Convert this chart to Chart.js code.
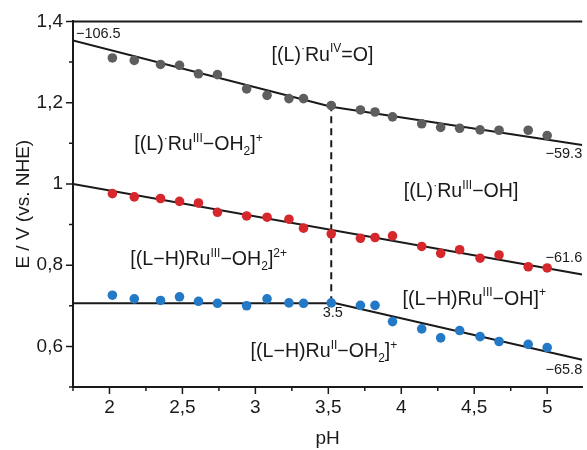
<!DOCTYPE html>
<html>
<head>
<meta charset="utf-8">
<script src="https://cdn.jsdelivr.net/npm/chart.js@4.4.1/dist/chart.umd.min.js"></script>
<style>
  html, body { margin: 0; padding: 0; background: #fff; }
  #wrap { width: 587px; height: 450px; }
</style>
</head>
<body>
<div id="wrap"><canvas id="chart" width="587" height="450"></canvas></div>
<script>
// measured pH values (same for all three couples)
const pH = [2.02, 2.17, 2.35, 2.48, 2.61, 2.74, 2.94, 3.08, 3.23, 3.33, 3.52,
            3.72, 3.82, 3.94, 4.14, 4.27, 4.40, 4.54, 4.67, 4.87, 5.00];
// E / V vs NHE
const eRuIV  = [1.310, 1.304, 1.294, 1.292, 1.271, 1.269, 1.234, 1.218, 1.210, 1.210, 1.193,
                1.182, 1.177, 1.165, 1.148, 1.139, 1.137, 1.133, 1.132, 1.132, 1.119];
const eRuIII = [0.976, 0.968, 0.964, 0.957, 0.953, 0.930, 0.921, 0.918, 0.913, 0.891, 0.877,
                0.866, 0.868, 0.872, 0.846, 0.829, 0.838, 0.817, 0.825, 0.796, 0.793];
const eRuII  = [0.726, 0.717, 0.713, 0.722, 0.711, 0.706, 0.700, 0.717, 0.707, 0.706, 0.707,
                0.701, 0.701, 0.661, 0.643, 0.621, 0.639, 0.624, 0.612, 0.605, 0.597];

// fitted lines
const fitTopX = [1.75, 3.52, 5.24],  fitTopY = [1.353, 1.19, 1.096];
const fitMidX = [1.75, 5.24],        fitMidY = [1.0, 0.777];
const fitLowX = [1.75, 3.55, 5.24],  fitLowY = [0.706, 0.706, 0.567];
const dashX = [3.52, 3.52],          dashY = [0.706, 1.19];

// axes
const xTicks = [2, 2.5, 3, 3.5, 4, 4.5, 5];
const xMinor = [1.75, 2.25, 2.75, 3.25, 3.75, 4.25, 4.75];
const yTicks = [0.6, 0.8, 1, 1.2, 1.4];
const yMinor = [0.5, 0.7, 0.9, 1.1, 1.3];

// species labels: [pH, E, text]   ^{..} = superscript, _{..} = subscript
const species = [
  [3.46, 1.321, '[(L)^{·}Ru^{IV}=O]'],
  [2.61, 1.101, '[(L)^{·}Ru^{III}−OH_{2}]^{+}'],
  [4.41, 0.985, '[(L)^{·}Ru^{III}−OH]'],
  [2.68, 0.818, '[(L−H)Ru^{III}−OH_{2}]^{2+}'],
  [4.50, 0.720, '[(L−H)Ru^{III}−OH]^{+}'],
  [3.47, 0.590, '[(L−H)Ru^{II}−OH_{2}]^{+}']
];
// slope labels: [pH, E, text, align]
const slopes = [
  [1.77, 1.368, '−106.5', 'left'],
  [5.24, 1.074, '−59.3', 'right'],
  [5.24, 0.818, '−61.6', 'right'],
  [3.53, 0.681, '3.5', 'center'],
  [5.24, 0.541, '−65.8', 'right']
];

const FONT = '"Liberation Sans", Arial, sans-serif';
const INK = '#1a1a1a';

const toXY = (xs, ys) => xs.map((x, i) => ({ x: x, y: ys[i] }));

function parseRich(str) {
  const parts = [];
  const re = /([\^_])\{([^}]*)\}|([^\^_]+)/g;
  let m;
  while ((m = re.exec(str)) !== null) {
    if (m[1]) parts.push({ t: m[2], mode: m[1] === '^' ? 'sup' : 'sub' });
    else parts.push({ t: m[3], mode: 'n' });
  }
  return parts;
}

function drawRich(ctx, str, cx, cy, size) {
  const small = Math.round(size * 0.62);
  const parts = parseRich(str);
  let total = 0;
  parts.forEach(p => {
    ctx.font = (p.mode === 'n' ? size : small) + 'px ' + FONT;
    p.w = ctx.measureText(p.t).width;
    total += p.w;
  });
  let x = cx - total / 2;
  const base = cy + size * 0.36;
  ctx.textAlign = 'left';
  ctx.textBaseline = 'alphabetic';
  parts.forEach(p => {
    ctx.font = (p.mode === 'n' ? size : small) + 'px ' + FONT;
    let y = base;
    if (p.mode === 'sup') y = base - size * 0.42;
    if (p.mode === 'sub') y = base + size * 0.24;
    ctx.fillText(p.t, x, y);
    x += p.w;
  });
}

const decorations = {
  id: 'decorations',
  afterDraw(chart) {
    const { ctx, chartArea: a } = chart;
    const xs = chart.scales.x, ys = chart.scales.y;
    ctx.save();
    ctx.strokeStyle = INK;
    ctx.lineWidth = 2;
    // top frame
    ctx.beginPath();
    ctx.moveTo(a.left - 1, a.top);
    ctx.lineTo(a.right, a.top);
    ctx.stroke();
    // tick marks
    ctx.lineWidth = 1.5;
    ctx.beginPath();
    xTicks.forEach(v => { const p = xs.getPixelForValue(v); ctx.moveTo(p, a.bottom); ctx.lineTo(p, a.bottom + 7); });
    xMinor.forEach(v => { const p = xs.getPixelForValue(v); ctx.moveTo(p, a.bottom); ctx.lineTo(p, a.bottom + 4); });
    yTicks.forEach(v => { const p = ys.getPixelForValue(v); ctx.moveTo(a.left, p); ctx.lineTo(a.left - 7, p); });
    yMinor.forEach(v => { const p = ys.getPixelForValue(v); ctx.moveTo(a.left, p); ctx.lineTo(a.left - 4, p); });
    ctx.stroke();

    ctx.fillStyle = INK;
    species.forEach(s => {
      drawRich(ctx, s[2], xs.getPixelForValue(s[0]), ys.getPixelForValue(s[1]), 19.6);
    });
    ctx.font = '14.5px ' + FONT;
    ctx.textBaseline = 'middle';
    slopes.forEach(s => {
      ctx.textAlign = s[3];
      ctx.fillText(s[2], xs.getPixelForValue(s[0]), ys.getPixelForValue(s[1]));
    });
    ctx.restore();
  }
};

const fmt = v => String(Math.round(v * 10) / 10).replace('.', ',');

new Chart(document.getElementById('chart'), {
  type: 'scatter',
  data: {
    datasets: [
      { data: toXY(pH, eRuIV),  backgroundColor: '#5e5e5e', pointRadius: 4.8, borderWidth: 0, order: 0 },
      { data: toXY(pH, eRuIII), backgroundColor: '#d6282c', pointRadius: 4.8, borderWidth: 0, order: 0 },
      { data: toXY(pH, eRuII),  backgroundColor: '#2479c6', pointRadius: 4.8, borderWidth: 0, order: 0 },
      { data: toXY(fitTopX, fitTopY), showLine: true, borderColor: INK, borderWidth: 2, pointRadius: 0, order: 1 },
      { data: toXY(fitMidX, fitMidY), showLine: true, borderColor: INK, borderWidth: 2, pointRadius: 0, order: 1 },
      { data: toXY(fitLowX, fitLowY), showLine: true, borderColor: INK, borderWidth: 2, pointRadius: 0, order: 1 },
      { data: toXY(dashX, dashY), showLine: true, borderColor: INK, borderWidth: 2, borderDash: [7, 5], pointRadius: 0, order: 1 }
    ]
  },
  options: {
    responsive: false,
    devicePixelRatio: 1,
    animation: false,
    layout: { padding: { top: 20, right: 0, left: 0, bottom: 0 } },
    plugins: { legend: { display: false }, tooltip: { enabled: false } },
    scales: {
      x: {
        type: 'linear', min: 1.75, max: 5.24,
        afterBuildTicks: s => { s.ticks = xTicks.map(v => ({ value: v })); },
        afterFit: s => { s.height = 63; },
        grid: { display: true, drawOnChartArea: false, drawTicks: false },
        border: { display: true, color: INK, width: 2 },
        ticks: { padding: 9, color: INK, font: { family: FONT, size: 19 }, callback: v => fmt(v), maxRotation: 0 },
        title: { display: true, text: 'pH', color: INK, font: { family: FONT, size: 19 }, padding: { top: 0, bottom: 0 } }
      },
      y: {
        type: 'linear', min: 0.5, max: 1.4,
        afterBuildTicks: s => { s.ticks = yTicks.map(v => ({ value: v })); },
        afterFit: s => { s.width = 73; },
        grid: { display: true, drawOnChartArea: false, drawTicks: false },
        border: { display: true, color: INK, width: 2 },
        ticks: { padding: 10, color: INK, font: { family: FONT, size: 19 }, callback: v => fmt(v) },
        title: { display: true, text: 'E / V (vs. NHE)', color: INK, font: { family: FONT, size: 19 }, padding: { top: 12, bottom: 0 } }
      }
    }
  },
  plugins: [decorations]
});
</script>
</body>
</html>
